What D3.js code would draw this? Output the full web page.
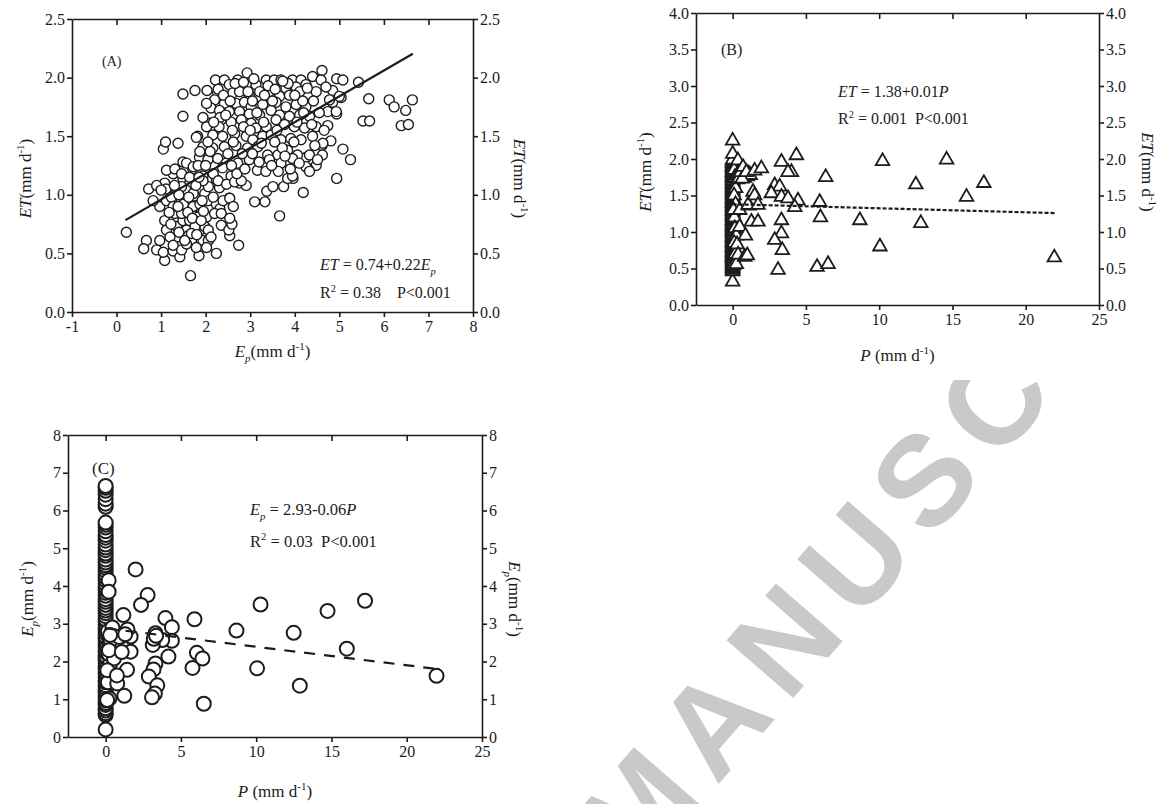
<!DOCTYPE html>
<html>
<head>
<meta charset="utf-8">
<script src="https://cdn.jsdelivr.net/npm/d3@7"></script>
<style>
  body { margin: 0; background: #fff; }
  svg { font-family: "Liberation Serif", "Times New Roman", serif; }
</style>
</head>
<body>
<div id="chart"></div>
<script>
// ---- panel A : ET against Ep (mm/d) ----
const aPoints = [
  [0.22,0.68],[0.72,1.05],[0.67,0.61],[0.61,0.54],[0.90,0.53],[1.08,0.44],[1.05,0.51],[1.27,0.52],[1.42,0.47],[1.46,0.53],
  [1.66,0.31],[1.85,0.48],[2.24,0.50],[2.74,0.57],[2.35,0.74],[2.54,0.65],[2.52,0.70],[2.59,0.75],
  [1.05,1.39],[1.10,1.45],[1.38,1.44],[1.49,1.86],[1.49,1.67],[1.76,1.89],[2.03,1.89],[2.22,1.98],[2.93,2.04],
  [3.66,0.82],[3.10,0.94],[3.33,0.94],[3.37,1.03],[3.51,1.07],[3.75,1.07],[3.96,1.14],[4.19,1.02],[3.16,1.21],
  [4.94,1.14],[5.25,1.30],[5.08,1.39],[5.43,1.96],[5.66,1.82],[5.53,1.63],[5.68,1.63],[6.12,1.81],[6.23,1.75],
  [6.49,1.72],[6.64,1.81],[6.39,1.59],[6.55,1.60],
  [4.61,2.06],[4.94,1.99],[5.08,1.98],[5.04,1.83],[4.85,1.79],[4.94,1.69],[4.74,1.59],[4.81,1.46],[4.61,1.42],
  [4.62,1.34],[4.48,1.25],[4.30,1.22],[4.26,1.32],
  [2.42,1.98],[2.72,1.98],[3.36,1.98],[3.54,1.98],[3.69,1.98],[3.95,1.98],[4.14,1.98],[4.40,2.01],
  [3.13,1.94],[2.53,1.94],[2.91,1.94],[3.80,1.91],[4.03,1.92],[4.25,1.94],[4.59,1.98],[4.85,1.89],
  [2.27,1.87],[2.61,1.87],[2.76,1.88],[2.98,1.85],[3.21,1.88],[3.43,1.88],[3.66,1.84],[3.88,1.85],[4.11,1.88],
  [4.48,1.88],[4.78,1.81],[5.00,1.84],
  [2.20,1.81],[2.42,1.78],[2.68,1.78],[2.87,1.79],[3.02,1.75],[3.28,1.77],[3.58,1.79],[3.80,1.75],[4.03,1.77],
  [4.25,1.75],[4.74,1.71],[4.93,1.71],
  [2.12,1.74],[2.31,1.72],[2.53,1.71],[2.76,1.71],[2.98,1.69],[3.21,1.68],[3.47,1.72],[3.66,1.68],[3.88,1.67],
  [4.11,1.68],[4.33,1.67],
  [2.09,1.61],[2.35,1.64],[2.57,1.62],[2.80,1.64],[3.02,1.61],[3.13,1.57],[3.36,1.58],[3.58,1.64],[3.77,1.60],
  [3.99,1.58],[4.22,1.57],[4.48,1.58],[4.66,1.55],
  [2.16,1.51],[2.38,1.50],[2.65,1.52],[2.91,1.50],[3.06,1.47],[3.28,1.50],[3.47,1.51],[3.69,1.47],[3.91,1.48],
  [4.14,1.47],[4.40,1.50],[4.63,1.44],[1.82,1.50],
  [1.94,1.41],[2.16,1.40],[2.42,1.41],[2.68,1.42],[2.94,1.40],[3.17,1.41],[3.39,1.34],[3.62,1.34],[3.84,1.38],
  [4.06,1.34],[4.33,1.34],[4.51,1.30],
  [1.86,1.32],[2.05,1.30],[2.27,1.31],[2.46,1.27],[2.72,1.27],[2.98,1.30],[3.43,1.30],[3.69,1.27],[3.95,1.31],
  [4.25,1.24],[4.33,1.20],[1.49,1.28],[1.71,1.22],
  [1.08,1.10],[1.27,1.18],[1.49,1.14],[1.64,1.10],[1.94,1.16],[2.24,1.13],[2.57,1.16],[2.76,1.10],[2.91,1.08],
  [3.84,1.14],[3.95,1.16],
  [1.11,1.05],[1.34,1.01],[1.56,1.04],[1.75,0.99],[1.98,1.01],[2.31,1.06],[2.53,0.97],
  [0.97,0.90],[1.08,0.78],[1.12,0.95],[1.23,0.98],[1.31,0.84],[1.35,0.73],[1.35,0.64],[1.46,0.95],[1.46,1.07],
  [1.53,0.87],[1.49,0.78],[1.57,0.70],[1.61,0.65],[1.68,0.61],[1.72,1.01],[1.79,0.90],[1.83,0.81],[1.87,0.70],
  [1.94,0.61],[1.98,0.73],[2.06,0.70],[2.06,0.61],[2.02,0.81],[2.06,0.95],[2.06,1.07],[1.94,1.12],[2.17,1.18],
  [2.28,1.12],[2.24,0.92],[2.32,0.88],[2.20,0.84],[2.39,0.95],[2.47,1.09],[2.54,0.97],[2.65,1.11],[2.80,1.12],
  [0.82,0.95],[0.90,1.08],[1.00,1.04],[1.12,1.21],[1.31,1.22],[1.46,1.18],[1.57,1.27],[1.72,1.24],[1.83,1.25],
  [1.64,1.15],[1.87,1.37],[1.79,1.49],[2.02,1.58],[1.94,1.66],[2.02,1.78],[2.32,1.66],
  [1.46,0.84],[1.27,0.90],[1.12,0.70],[1.20,0.64],[1.57,0.95],[1.72,0.90],[1.64,0.78],[1.87,0.92],[1.76,0.73],
  [1.57,0.58],[1.27,0.57],[0.97,0.61],[1.79,0.55],[1.68,0.67],[1.53,0.61],[2.02,0.55],
  [2.17,0.98],[2.35,0.84],[2.62,0.90],[2.54,0.80],
  [2.05,1.45],[2.30,1.58],[2.45,1.68],[2.60,1.55],[2.85,1.58],[2.95,1.88],[3.05,1.80],[3.15,1.70],[3.30,1.62],
  [3.40,1.93],[3.50,1.80],[3.60,1.55],[3.72,1.40],[3.85,1.95],[3.98,1.45],[4.05,1.62],[4.18,1.80],[4.28,1.91],
  [4.38,1.60],[4.45,1.42],[4.55,1.70],[4.70,1.92],[3.25,1.44],[3.55,1.45],[3.63,1.20],[3.78,1.33],[3.90,1.22],
  [4.10,1.27],[2.50,1.35],[2.62,1.45],[2.82,1.35],[3.00,1.55],[2.18,1.62],[2.28,1.90],[2.40,1.85],[2.55,1.80],
  [2.66,1.95],[2.85,1.96],[3.08,1.99],[3.32,1.85],[3.56,1.90],[3.73,1.97],[4.00,1.85],[4.20,1.70],[4.42,1.80],
  [2.00,1.25],[2.10,1.37],[2.38,1.23],[2.58,1.25],[2.70,1.18],[2.88,1.22],[3.05,1.35],[3.20,1.28],[3.35,1.20],
  [3.48,1.25],
  [1.40,1.00],[1.50,0.92],[1.60,0.85],[1.70,0.80],[1.80,0.66],[1.90,0.78],[1.95,0.86],[1.38,0.90],[1.30,1.08],
  [1.62,0.98],[1.78,1.08],[1.18,0.85],[1.40,0.68],[1.92,0.95],[2.12,0.64],[1.85,1.15],[1.22,0.75]
];
const aFit = { a: 0.74, b: 0.22, from: 0.2, to: 6.65 };
const aXTicks = [-1, 0, 1, 2, 3, 4, 5, 6, 7, 8];
const aYTicks = [0, 0.5, 1, 1.5, 2, 2.5];

// ---- panel B : ET against P ----
// rainless days stack up at P = 0
const bZeroET = [0.32,0.46,0.48,0.5,0.51,0.53,0.54,0.56,0.58,0.6,0.61,0.63,0.64,0.66,0.67,0.68,0.69,0.71,0.72,0.73,
  0.74,0.76,0.78,0.79,0.8,0.81,0.83,0.85,0.86,0.87,0.88,0.9,0.92,0.93,0.94,0.95,0.97,0.99,1.0,1.01,1.03,1.04,
  1.05,1.07,1.08,1.09,1.1,1.12,1.14,1.15,1.16,1.17,1.19,1.21,1.22,1.23,1.24,1.26,1.28,1.29,1.3,1.32,1.33,1.35,
  1.36,1.37,1.39,1.4,1.41,1.43,1.44,1.46,1.47,1.48,1.5,1.51,1.53,1.54,1.55,1.57,1.58,1.6,1.61,1.62,1.64,1.65,
  1.67,1.68,1.69,1.71,1.73,1.74,1.75,1.76,1.78,1.8,1.81,1.82,1.83,1.85,1.87,1.88,1.89,1.9,1.92,1.94,1.95,1.96,
  1.98,1.99,2.07,2.25];
const bPoints = [
  [0.1,1.85],[0.15,1.75],[0.2,1.6],[0.1,1.5],[0.2,1.38],[0.12,1.2],[0.15,1.05],[0.25,0.95],[0.1,0.85],[0.18,0.7],
  [0.08,0.55],[0.3,1.78],[0.35,1.72],[0.05,1.3],[0.36,1.98],[0.4,1.8],[0.5,1.76],[0.6,1.78],[0.7,1.75],[0.8,1.74],
  [0.9,1.77],[1.0,1.76],[1.1,1.8],[1.2,1.78],[0.45,1.74],[0.55,1.82],[0.65,1.73],[0.71,1.89],[0.94,1.82],
  [1.5,1.84],[1.96,1.87],[0.48,1.30],[0.48,1.07],[0.25,0.56],[0.3,0.83],[0.37,0.69],[0.82,0.66],[1.0,0.68],
  [0.87,0.95],[1.12,1.36],[1.05,1.37],[1.39,1.55],[1.5,1.5],[1.73,1.37],[1.28,1.14],[1.73,1.14],
  [4.35,2.05],[3.33,1.96],[4.01,1.82],[3.78,1.82],[2.87,1.64],[3.21,1.62],[2.64,1.53],[3.33,1.48],[3.78,1.46],
  [4.46,1.43],[4.24,1.34],[3.33,1.16],[3.33,0.98],[2.87,0.89],[3.39,0.75],[3.1,0.48],[5.76,0.52],[6.51,0.56],
  [5.94,1.41],[5.99,1.20],[6.35,1.75],[8.68,1.16],[10.05,0.80],[10.23,1.97],[12.5,1.65],[12.84,1.12],
  [14.6,1.99],[15.96,1.48],[17.14,1.67],[21.95,0.65]
];
const bFit = { a: 1.38, b: -0.0055, from: 0, to: 22 };
const bXTicks = [0, 5, 10, 15, 20, 25];
const bYTicks = [0, 0.5, 1, 1.5, 2, 2.5, 3, 3.5, 4];

// ---- panel C : Ep against P ----
const cZeroEp = [0.2,0.58,0.63,0.7,0.76,0.85,0.9,0.97,1.03,1.1,1.18,1.22,1.3,1.37,1.45,1.5,1.58,1.66,1.72,1.8,1.86,
  1.95,2.02,2.1,2.15,2.24,2.3,2.38,2.45,2.52,2.6,2.66,2.75,2.82,2.9,2.97,3.05,3.12,3.2,3.28,3.35,3.42,3.5,3.58,
  3.65,3.74,3.82,3.9,3.97,4.05,4.15,4.22,4.3,4.4,4.48,4.55,4.62,4.7,4.8,4.86,4.95,5.02,5.1,5.2,5.28,5.35,5.45,
  5.55,5.62,5.68,6.1,6.18,6.3,6.42,6.52,6.6,6.65];
const cPoints = [
  [0.2,4.15],[0.2,3.85],[0.3,1.95],[0.25,1.02],[0.15,2.8],[0.25,2.6],[0.4,2.75],[0.5,2.45],[0.2,2.2],[0.35,1.6],
  [0.15,1.45],[0.45,2.9],
  [1.99,4.44],[2.79,3.76],[2.35,3.50],[1.18,3.23],[3.97,3.15],[4.40,2.91],[4.40,2.55],[4.17,2.13],[3.76,2.57],
  [3.31,2.75],[3.13,2.44],[3.31,1.95],[3.18,1.79],[2.87,1.60],[3.43,1.37],[3.27,1.15],[3.08,1.05],[3.2,2.6],
  [3.35,2.68],[5.90,3.12],[6.06,2.23],[6.43,2.08],[5.77,1.83],[6.52,0.88],[8.69,2.82],[10.29,3.51],[10.06,1.82],
  [12.49,2.76],[12.9,1.36],[14.74,3.34],[16.02,2.34],[17.23,3.61],[21.98,1.62],
  [1.66,2.66],[1.66,2.26],[1.42,1.78],[1.24,1.09],[1.0,2.66],[0.77,1.42],[0.66,2.57],[0.55,2.08],[0.33,2.57],
  [0.22,2.30],[0.11,1.77],[0.9,2.65],[1.45,2.85],[1.3,2.72],[0.3,2.7],[1.07,2.25],[0.75,1.63],[0.1,0.98]
];
const cFit = { a: 2.88, b: -0.049, from: 0, to: 22 };
const cXTicks = [0, 5, 10, 15, 20, 25];
const cYTicks = [0, 1, 2, 3, 4, 5, 6, 7, 8];

const W = 1158, H = 804;
const ink = "#1c1c1c";

const svg = d3.select("#chart").append("svg")
  .attr("width", W)
  .attr("height", H);

// grey manuscript stamp behind the figures, hidden under panel B's labels
svg.append("clipPath").attr("id", "wmclip")
  .append("rect").attr("x", 0).attr("y", 380).attr("width", W).attr("height", H - 380);
svg.append("g").attr("clip-path", "url(#wmclip)")
  .append("text")
  .attr("transform", "translate(636,879) rotate(-49)")
  .attr("font-family", "'Liberation Sans', Arial, sans-serif")
  .attr("font-weight", "bold")
  .attr("font-size", 128)
  .attr("letter-spacing", 16)
  .attr("fill", "#c8c9cb")
  .text("MANUSC");

// writes a text made of pieces (italic, sub, sup) into a <text>
function rich(sel, parts, size) {
  let shift = 0;
  parts.forEach(p => {
    const s = p.sub ? 0.3 * size : p.sup ? -0.4 * size : 0;
    const ts = sel.append("tspan").text(p.t).attr("dy", s - shift);
    if (p.i) ts.attr("font-style", "italic");
    if (p.sub || p.sup) ts.attr("font-size", size * 0.65);
    shift = s;
  });
}

function label(x, y, parts, size, rot) {
  const t = svg.append("text")
    .attr("transform", `translate(${x},${y})` + (rot ? ` rotate(${rot})` : ""))
    .attr("text-anchor", rot ? "middle" : "start")
    .attr("font-size", size)
    .attr("fill", ink)
    .style("white-space", "pre");
  rich(t, parts, size);
  return t;
}

function panel(o) {
  const x = d3.scaleLinear().domain(o.xDom).range([o.l, o.r]);
  const y = d3.scaleLinear().domain(o.yDom).range([o.b, o.t]);
  const g = svg.append("g");
  const inner = o.xTicks.filter(v => v > o.xDom[0] && v < o.xDom[1]);

  g.append("rect").attr("x", o.l).attr("y", o.t).attr("width", o.r - o.l).attr("height", o.b - o.t).attr("fill", "#fff");

  const axes = [
    g.append("g").attr("transform", `translate(0,${o.t})`)
      .call(d3.axisBottom(x).tickValues(inner).tickSize(6).tickSizeOuter(0).tickFormat("")),
    g.append("g").attr("transform", `translate(0,${o.b})`)
      .call(d3.axisBottom(x).tickValues(o.xTicks).tickSize(5).tickSizeOuter(0).tickPadding(4).tickFormat(d => String(d))),
    g.append("g").attr("transform", `translate(${o.l},0)`)
      .call(d3.axisLeft(y).tickValues(o.yTicks).tickSize(5).tickSizeOuter(0).tickPadding(2).tickFormat(o.fmt)),
    g.append("g").attr("transform", `translate(${o.r},0)`)
      .call(d3.axisRight(y).tickValues(o.yTicks).tickSize(5).tickSizeOuter(0).tickPadding(2).tickFormat(o.fmt))
  ];
  axes.forEach(a => {
    a.selectAll("path, line").attr("stroke", ink).attr("stroke-width", 1.6);
    a.selectAll("text").attr("font-family", "'Liberation Serif', serif").attr("font-size", 16).attr("fill", ink);
  });

  const marks = g.append("g");
  if (o.shape === "triangle") {
    const tri = d3.symbol().type(d3.symbolTriangle).size(o.size);
    marks.selectAll("path").data(o.points).join("path")
      .attr("d", tri)
      .attr("transform", d => `translate(${x(d[0])},${y(d[1])})`)
      .attr("fill", "#fff").attr("stroke", ink).attr("stroke-width", o.sw);
  } else {
    marks.selectAll("circle").data(o.points).join("circle")
      .attr("cx", d => x(d[0])).attr("cy", d => y(d[1])).attr("r", o.size)
      .attr("fill", "#fff").attr("stroke", ink).attr("stroke-width", o.sw);
  }

  const f = o.fit;
  g.append("line")
    .attr("x1", x(f.from)).attr("y1", y(f.a + f.b * f.from))
    .attr("x2", x(f.to)).attr("y2", y(f.a + f.b * f.to))
    .attr("stroke", ink).attr("stroke-width", 2.2)
    .attr("stroke-dasharray", o.dash || null);

  const cy = (o.t + o.b) / 2 + 13;
  label(o.yl, cy, o.yTitle, 17, -90);
  label(o.yr, cy, o.yTitle, 17, 90);
  label((o.l + o.r) / 2, o.xt, o.xTitle, 17, 0).attr("text-anchor", "middle");
}

const unitY = [{t: "ET", i: true}, {t: "(mm d"}, {t: "-1", sup: true}, {t: ")"}];
const unitEp = [{t: "E", i: true}, {t: "p", i: true, sub: true}, {t: "(mm d"}, {t: "-1", sup: true}, {t: ")"}];
const unitP = [{t: "P", i: true}, {t: " (mm d"}, {t: "-1", sup: true}, {t: ")"}];

panel({
  l: 72, r: 473, t: 19, b: 312, xDom: [-1, 8], yDom: [0, 2.5],
  xTicks: aXTicks, yTicks: aYTicks, fmt: d3.format(".1f"),
  points: aPoints, shape: "circle", size: 5, sw: 1.4, fit: aFit,
  yl: 31, yr: 514, xt: 357, yTitle: unitY, xTitle: unitEp
});
label(102, 66, [{t: "(A)"}], 14, 0);
label(320, 270, [{t: "ET", i: true}, {t: " = 0.74+0.22"}, {t: "E", i: true}, {t: "p", i: true, sub: true}], 16, 0);
label(320, 298, [{t: "R"}, {t: "2", sup: true}, {t: " = 0.38    P<0.001"}], 16, 0);

panel({
  l: 696, r: 1099, t: 13, b: 305, xDom: [-2.5, 25], yDom: [0, 4],
  xTicks: bXTicks, yTicks: bYTicks, fmt: d3.format(".1f"),
  points: bZeroET.map(v => [0, v]).concat(bPoints), shape: "triangle", size: 80, sw: 1.8, fit: bFit, dash: "4,2",
  yl: 651, yr: 1142, xt: 361, yTitle: unitY, xTitle: unitP
});
label(721, 55, [{t: "(B)"}], 16, 0);
label(838, 97, [{t: "ET", i: true}, {t: " = 1.38+0.01"}, {t: "P", i: true}], 16, 0);
label(838, 124, [{t: "R"}, {t: "2", sup: true}, {t: " = 0.001  P<0.001"}], 16, 0);

panel({
  l: 68, r: 482, t: 435, b: 737, xDom: [-2.5, 25], yDom: [0, 8],
  xTicks: cXTicks, yTicks: cYTicks, fmt: d => String(d),
  points: cZeroEp.map(v => [0, v]).concat(cPoints), shape: "circle", size: 7, sw: 2, fit: cFit, dash: "11,9",
  yl: 33, yr: 509, xt: 797, yTitle: unitEp, xTitle: unitP
});
label(92, 474, [{t: "(C)"}], 17, 0);
label(250, 515, [{t: "E", i: true}, {t: "p", i: true, sub: true}, {t: " = 2.93-0.06"}, {t: "P", i: true}], 16.5, 0);
label(250, 547, [{t: "R"}, {t: "2", sup: true}, {t: " = 0.03  P<0.001"}], 16.5, 0);
</script>
</body>
</html>
